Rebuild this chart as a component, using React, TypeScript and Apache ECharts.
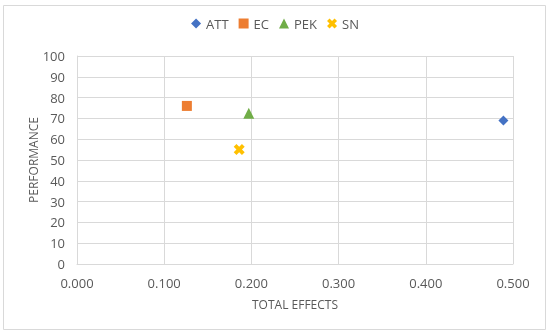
import React, { useEffect, useRef } from "react";
import * as echarts from "echarts";

const seriesNames = ["ATT", "EC", "PEK", "SN"];
const totalEffects = [0.489, 0.126, 0.197, 0.186];
const performance = [69, 76, 72.5, 55];
const colors = ["#4472C4", "#ED7D31", "#70AD47", "#FFC000"];
const crossPath =
  "path://M2.5,0 L5,2.5 L7.5,0 L10,2.5 L7.5,5 L10,7.5 L7.5,10 L5,7.5 L2.5,10 L0,7.5 L2.5,5 L0,2.5 Z";
const symbols = ["diamond", "rect", "triangle", crossPath];
const symbolSizes = [10, 10, 11, 11];
const xTicks = [0, 0.1, 0.2, 0.3, 0.4, 0.5];

export default function App() {
  const ref = useRef<HTMLDivElement>(null);
  useEffect(() => {
    if (!ref.current) return;
    const chart = echarts.init(ref.current, undefined, { renderer: "svg" });
    const font = "'Open Sans', 'Liberation Sans', sans-serif";
    chart.setOption({
      animation: false,
      textStyle: { fontFamily: font },
      graphic: [
        {
          type: "rect",
          shape: { x: 3.5, y: 5.5, width: 542, height: 324 },
          style: { fill: "none", stroke: "#d9d9d9", lineWidth: 1 },
          silent: true,
        },
      ],
      legend: {
        top: 12,
        left: "center",
        itemWidth: 10,
        itemHeight: 10,
        itemGap: 10,
        textStyle: { color: "#595959", fontSize: 13, fontFamily: font },
        data: seriesNames,
      },
      grid: { left: 77, right: 37, top: 56, bottom: 70, containLabel: false },
      xAxis: {
        type: "value",
        min: xTicks[0],
        max: xTicks[xTicks.length - 1],
        interval: 0.1,
        name: "TOTAL EFFECTS",
        nameLocation: "middle",
        nameGap: 34,
        nameTextStyle: { color: "#595959", fontSize: 12, fontFamily: font },
        axisLine: { show: true, lineStyle: { color: "#d9d9d9" } },
        axisTick: { show: false },
        axisLabel: {
          color: "#595959",
          fontSize: 13,
          margin: 12,
          formatter: (v: number) => v.toFixed(3),
        },
        splitLine: { show: true, lineStyle: { color: "#d9d9d9" } },
      },
      yAxis: {
        type: "value",
        min: 0,
        max: 100,
        interval: 10,
        name: "PERFORMANCE",
        nameLocation: "middle",
        nameGap: 38,
        nameMoveOverlap: false,
        nameRotate: 90,
        nameTextStyle: { color: "#595959", fontSize: 12, fontFamily: font },
        axisLine: { show: true, lineStyle: { color: "#d9d9d9" } },
        axisTick: { show: false },
        axisLabel: { color: "#595959", fontSize: 13, margin: 12 },
        splitLine: { show: true, lineStyle: { color: "#d9d9d9" } },
      },
      series: seriesNames.map((name, i) => ({
        name,
        type: "scatter",
        symbol: symbols[i],
        symbolSize: symbolSizes[i],
        itemStyle: { color: colors[i], opacity: 1 },
        data: [[totalEffects[i], performance[i]]],
      })),
    });
    return () => chart.dispose();
  }, []);
  return (
    <div
      ref={ref}
      style={{ position: "fixed", left: 0, top: 0, width: 550, height: 334 }}
    />
  );
}
